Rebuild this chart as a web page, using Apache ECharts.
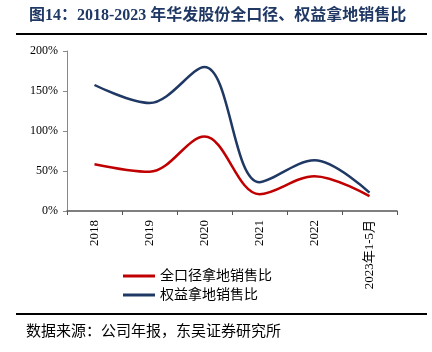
<!DOCTYPE html>
<html>
<head>
<meta charset="utf-8">
<script src="https://cdn.jsdelivr.net/npm/echarts@6/dist/echarts.min.js"></script>
<style>
  html, body { margin: 0; padding: 0; background: #fff; }
  #main { width: 432px; height: 352px; }
</style>
</head>
<body>
<div id="main"></div>
<script>
// 年份
var years = ["2018", "2019", "2020", "2021", "2022", "2023年1-5月"];
// 全口径拿地销售比 (%)
var allRatio = [58.5, 49, 93, 21, 43.5, 18.5];
// 权益拿地销售比 (%)
var equityRatio = [157.5, 135, 180, 36, 63.5, 23];

var serif = "'Liberation Serif', 'Noto Sans CJK SC', serif";

var chart = echarts.init(document.getElementById("main"));
var option = {
  backgroundColor: "#fff",
  animation: false,
  title: {
    text: "图14：2018-2023 年华发股份全口径、权益拿地销售比",
    left: 24,
    top: 3,
    textStyle: {
      fontFamily: serif,
      fontSize: 16,
      fontWeight: "bold",
      color: "#1f3864",
    },
  },
  graphic: [
    {
      type: "line",
      shape: { x1: 16, y1: 34, x2: 427, y2: 34 },
      style: { stroke: "#000", lineWidth: 2 },
    },
    {
      type: "line",
      shape: { x1: 16, y1: 314, x2: 427, y2: 314 },
      style: { stroke: "#000", lineWidth: 2 },
    },
    {
      type: "text",
      left: 26,
      top: 325,
      style: {
        text: "数据来源：公司年报，东吴证券研究所",
        font: "15px " + serif,
        fill: "#000",
      },
    },
  ],
  legend: {
    orient: "vertical",
    left: 118,
    top: 264,
    itemWidth: 32,
    itemHeight: 3,
    itemGap: 5,
    icon: "rect",
    textStyle: { fontFamily: serif, fontSize: 14, color: "#000" },
    data: ["全口径拿地销售比", "权益拿地销售比"],
  },
  grid: { left: 67, right: 35, top: 51, bottom: 141, containLabel: false },
  xAxis: {
    type: "category",
    data: years,
    boundaryGap: true,
    axisLine: { lineStyle: { color: "#555", width: 1.5 } },
    axisTick: { show: true, length: 4, lineStyle: { color: "#555" } },
    axisLabel: {
      rotate: 90,
      margin: 9,
      interval: 0,
      fontFamily: serif,
      fontSize: 13,
      color: "#000",
    },
  },
  yAxis: {
    type: "value",
    min: 0,
    max: 200,
    interval: 50,
    axisLine: { show: true, lineStyle: { color: "#888" } },
    axisTick: { show: true, length: 4, lineStyle: { color: "#888" } },
    splitLine: { show: false },
    axisLabel: {
      formatter: "{value}%",
      margin: 9,
      fontFamily: serif,
      fontSize: 12,
      color: "#000",
    },
  },
  series: [
    {
      name: "全口径拿地销售比",
      type: "line",
      data: allRatio,
      smooth: 0.35,
      symbol: "none",
      lineStyle: { color: "#c00000", width: 2.5 },
      itemStyle: { color: "#c00000" },
    },
    {
      name: "权益拿地销售比",
      type: "line",
      data: equityRatio,
      smooth: 0.35,
      symbol: "none",
      lineStyle: { color: "#1f3864", width: 2.5 },
      itemStyle: { color: "#1f3864" },
    },
  ],
};
chart.setOption(option);
</script>
</body>
</html>
